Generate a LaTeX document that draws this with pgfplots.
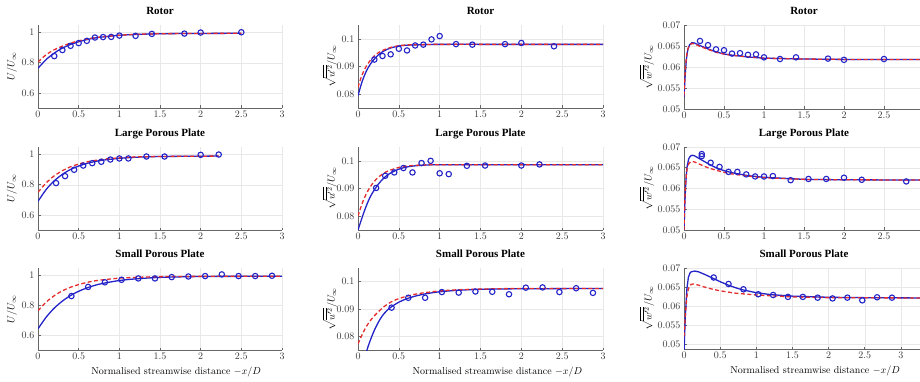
\documentclass[border=0pt]{standalone}
\usepackage{fontspec}
\usepackage{pgfplots}
\pgfplotsset{compat=1.18}
\newfontfamily\titlefont{Liberation Serif}
\definecolor{mblue}{RGB}{35,35,200}
\definecolor{mred}{RGB}{228,45,45}
\pgfplotsset{
  base/.style={
    scale only axis, anchor=north west,
    axis x line=bottom, axis y line=left,
    axis line style={-, draw=black!60, line width=0.6pt},
    grid=major, grid style={black!9, line width=0.4pt},
    tick align=inside, major tick length=2.5pt, tick style={black!60, line width=0.5pt},
    xmin=0, xmax=3, xtick={0,0.5,1,1.5,2,2.5,3},
    scaled ticks=false,
    ticklabel style={font=\fontsize{10.3}{12}\selectfont, text=black!78},
    yticklabel style={/pgf/number format/fixed, /pgf/number format/precision=3},
    xticklabel style={/pgf/number format/fixed},
    title style={at={(axis description cs:0.5,1)}, anchor=base, yshift=4.4pt, font=\titlefont\bfseries\fontsize{11}{13}\selectfont},
    ylabel style={font=\fontsize{12}{14}\selectfont, text=black!78},
    xlabel style={font=\fontsize{12}{14}\selectfont, text=black!78},
  },
  blueline/.style={mblue, line width=1.3pt, no marks},
  redline/.style={mred, dash pattern=on 4pt off 2.5pt, line width=1.3pt, no marks},
  pts/.style={mblue, only marks, mark=o, mark size=2.7pt, mark options={line width=1.1pt, solid}},
  c1/.style={base, width=244pt, ymin=0.5, ymax=1.05, ytick={0.6,0.8,1}, ylabel={$U/U_\infty$},
    every axis y label/.style={at={(axis description cs:-0.107,0.5)}, rotate=90, anchor=center},
    every axis x label/.style={at={(axis description cs:0.566,-0.268)}, anchor=center}},
  c2/.style={base, width=245pt, ymin=0.075, ymax=0.105, ytick={0.08,0.09,0.1}, ylabel={$\sqrt{\overline{u'^2}}/U_\infty$},
    every axis y label/.style={at={(axis description cs:-0.114,0.5)}, rotate=90, anchor=center},
    every axis x label/.style={at={(axis description cs:0.569,-0.268)}, anchor=center}},
  c3/.style={base, width=240pt, ymin=0.05, ymax=0.07, ytick={0.05,0.055,0.06,0.065,0.07}, ylabel={$\sqrt{\overline{w'^2}}/U_\infty$},
    every axis y label/.style={at={(axis description cs:-0.154,0.5)}, rotate=90, anchor=center},
    every axis x label/.style={at={(axis description cs:0.546,-0.268)}, anchor=center}},
}
\begin{document}
\begin{tikzpicture}[x=1pt,y=1pt]
\useasboundingbox (0,0) rectangle (920,-382);
\clip (0,0) rectangle (920,-382);
% ---------------- Row 1 ----------------
\begin{axis}[c1, at={(38pt,-25pt)}, height=83pt, title={Rotor}]
\addplot[blueline, smooth] coordinates {(0,0.763)(0.1,0.821)(0.2,0.864)(0.3,0.897)(0.4,0.921)(0.5,0.939)(0.6,0.953)(0.7,0.964)(0.8,0.971)(1.0,0.982)(1.2,0.987)(1.5,0.992)(2.0,0.994)(2.5,0.995)};
\addplot[redline, smooth] coordinates {(0,0.805)(0.1,0.853)(0.2,0.886)(0.3,0.910)(0.4,0.930)(0.5,0.945)(0.6,0.957)(0.7,0.966)(0.8,0.972)(1.0,0.982)(1.2,0.988)(1.5,0.992)(2.0,0.994)(2.5,0.995)};
\addplot[pts] coordinates {(0.2,0.844)(0.3,0.884)(0.4,0.912)(0.5,0.930)(0.6,0.945)(0.7,0.967)(0.8,0.970)(0.9,0.971)(1.0,0.980)(1.2,0.978)(1.4,0.991)(1.8,0.993)(2.0,1.0)(2.5,1.002)};
\end{axis}
\begin{axis}[c2, at={(358pt,-25pt)}, height=83pt, title={Rotor}]
\addplot[blueline, smooth] coordinates {(0,0.0795)(0.05,0.0845)(0.1,0.0882)(0.15,0.0908)(0.2,0.0927)(0.25,0.0942)(0.3,0.0953)(0.35,0.0961)(0.4,0.0967)(0.5,0.0974)(0.6,0.0977)(0.8,0.0979)(1.0,0.0980)(2.0,0.0980)(3.0,0.0980)};
\addplot[redline, smooth] coordinates {(0,0.0825)(0.05,0.0870)(0.1,0.0900)(0.15,0.0922)(0.2,0.0938)(0.25,0.0950)(0.3,0.0958)(0.35,0.0964)(0.4,0.0969)(0.5,0.0975)(0.6,0.0978)(0.8,0.0979)(1.0,0.0980)(2.0,0.0980)(3.0,0.0980)};
\addplot[pts] coordinates {(0.2,0.0925)(0.3,0.0938)(0.4,0.0944)(0.5,0.0964)(0.6,0.0958)(0.7,0.0976)(0.8,0.0979)(0.9,0.0998)(1.0,0.1010)(1.2,0.0981)(1.4,0.0979)(1.8,0.0981)(2.0,0.0985)(2.4,0.0973)};
\end{axis}
\begin{axis}[c3, at={(684pt,-25pt)}, height=84pt, xtick={0,0.5,1,1.5,2,2.5}, title={Rotor}]
\addplot[blueline] coordinates {(0,0.0528)(0.01,0.0565)(0.02,0.0595)(0.03,0.0618)(0.04,0.0633)(0.05,0.0643)(0.07,0.0653)(0.1,0.0658)(0.13,0.0657)(0.2,0.0651)(0.3,0.0643)(0.4,0.0636)(0.5,0.0631)(0.6,0.0628)(0.8,0.0624)(1.0,0.0621)(1.5,0.0619)(2.0,0.0618)(3.5,0.0618)};
\addplot[redline] coordinates {(0,0.0532)(0.01,0.0572)(0.02,0.0603)(0.03,0.0623)(0.04,0.0636)(0.05,0.0644)(0.07,0.0652)(0.1,0.0656)(0.13,0.0655)(0.2,0.0649)(0.3,0.0642)(0.4,0.0635)(0.5,0.0631)(0.6,0.0628)(0.8,0.0624)(1.0,0.0621)(1.5,0.0619)(2.0,0.0618)(3.5,0.0618)};
\addplot[pts] coordinates {(0.2,0.0662)(0.3,0.0652)(0.4,0.0642)(0.5,0.0640)(0.6,0.0632)(0.7,0.0633)(0.8,0.0629)(0.9,0.0630)(1.0,0.0623)(1.2,0.0619)(1.4,0.0623)(1.8,0.0620)(2.0,0.0617)(2.5,0.0619)};
\end{axis}
% ---------------- Row 2 ----------------
\begin{axis}[c1, at={(38pt,-147pt)}, height=83pt, title={Large Porous Plate}]
\addplot[blueline, smooth] coordinates {(0,0.690)(0.1,0.768)(0.2,0.826)(0.3,0.869)(0.4,0.901)(0.5,0.924)(0.6,0.941)(0.7,0.954)(0.8,0.963)(1.0,0.975)(1.2,0.982)(1.5,0.987)(2.0,0.989)(2.22,0.990)};
\addplot[redline, smooth] coordinates {(0,0.750)(0.1,0.812)(0.2,0.859)(0.3,0.893)(0.4,0.919)(0.5,0.937)(0.6,0.951)(0.7,0.961)(0.8,0.969)(1.0,0.978)(1.2,0.984)(1.5,0.987)(2.0,0.989)(2.22,0.990)};
\addplot[pts] coordinates {(0.222,0.811)(0.333,0.857)(0.444,0.899)(0.556,0.927)(0.667,0.943)(0.778,0.952)(0.889,0.967)(1.0,0.974)(1.111,0.974)(1.333,0.987)(1.556,0.987)(2.0,0.998)(2.222,1.0)};
\end{axis}
\begin{axis}[c2, at={(358pt,-147pt)}, height=83pt, title={Large Porous Plate}]
\addplot[blueline, smooth] coordinates {(0,0.0750)(0.05,0.0795)(0.1,0.0836)(0.15,0.0870)(0.2,0.0895)(0.25,0.0916)(0.3,0.0933)(0.35,0.0946)(0.4,0.0956)(0.5,0.0970)(0.6,0.0978)(0.7,0.0982)(0.8,0.0984)(1.0,0.0986)(2.0,0.0986)(3.0,0.0986)};
\addplot[redline, smooth] coordinates {(0,0.0800)(0.05,0.0845)(0.1,0.0880)(0.15,0.0906)(0.2,0.0926)(0.25,0.0941)(0.3,0.0952)(0.35,0.0961)(0.4,0.0967)(0.5,0.0976)(0.6,0.0981)(0.7,0.0984)(0.8,0.0985)(1.0,0.0986)(2.0,0.0986)(3.0,0.0986)};
\addplot[pts] coordinates {(0.222,0.0902)(0.333,0.0946)(0.444,0.0958)(0.556,0.0974)(0.667,0.0958)(0.778,0.0992)(0.889,0.1000)(1.0,0.0955)(1.111,0.0952)(1.333,0.0982)(1.556,0.0983)(2.0,0.0983)(2.222,0.0987)};
\end{axis}
\begin{axis}[c3, at={(684pt,-147pt)}, height=83pt, xtick={0,0.5,1,1.5,2,2.5}, title={Large Porous Plate}]
\addplot[blueline] coordinates {(0,0.0500)(0.01,0.0560)(0.02,0.0605)(0.03,0.0635)(0.04,0.0655)(0.06,0.0672)(0.08,0.0678)(0.1,0.0680)(0.13,0.0679)(0.2,0.0671)(0.3,0.0660)(0.4,0.0650)(0.5,0.0643)(0.6,0.0638)(0.8,0.0631)(1.0,0.0627)(1.5,0.0622)(2.0,0.0621)(3.5,0.0620)};
\addplot[redline] coordinates {(0,0.0500)(0.01,0.0570)(0.02,0.0610)(0.03,0.0635)(0.04,0.0650)(0.06,0.0660)(0.08,0.0664)(0.1,0.0665)(0.13,0.0664)(0.2,0.0658)(0.3,0.0650)(0.4,0.0644)(0.5,0.0639)(0.6,0.0635)(0.8,0.0630)(1.0,0.0626)(1.5,0.0622)(2.0,0.0621)(3.5,0.0620)};
\addplot[pts] coordinates {(0.222,0.0683)(0.222,0.0678)(0.333,0.0662)(0.444,0.0652)(0.556,0.0640)(0.667,0.0640)(0.778,0.0634)(0.889,0.0629)(1.0,0.0629)(1.111,0.0630)(1.333,0.0620)(1.556,0.0623)(1.778,0.0623)(2.0,0.0626)(2.222,0.0621)(2.778,0.0617)};
\end{axis}
% ---------------- Row 3 ----------------
\begin{axis}[c1, at={(38pt,-268pt)}, height=82pt, title={Small Porous Plate}, xlabel={Normalised streamwise distance $-x/D$}]
\addplot[blueline, smooth] coordinates {(0,0.642)(0.1,0.720)(0.2,0.781)(0.3,0.828)(0.4,0.865)(0.5,0.894)(0.6,0.916)(0.7,0.934)(0.8,0.947)(1.0,0.966)(1.2,0.977)(1.5,0.987)(2.0,0.993)(2.5,0.994)(3.0,0.995)};
\addplot[redline, smooth] coordinates {(0,0.763)(0.1,0.821)(0.2,0.864)(0.3,0.897)(0.4,0.921)(0.5,0.939)(0.6,0.953)(0.7,0.964)(0.8,0.971)(1.0,0.982)(1.2,0.987)(1.5,0.992)(2.0,0.994)(3.0,0.995)};
\addplot[pts] coordinates {(0.411,0.862)(0.616,0.923)(0.822,0.954)(1.027,0.971)(1.233,0.980)(1.438,0.980)(1.644,0.989)(1.849,0.993)(2.055,0.996)(2.260,1.007)(2.466,0.996)(2.671,0.996)(2.877,0.998)};
\end{axis}
\begin{axis}[c2, at={(358pt,-268pt)}, height=82pt, title={Small Porous Plate}, xlabel={Normalised streamwise distance $-x/D$}]
\addplot[blueline, smooth] coordinates {(0,0.0620)(0.05,0.0685)(0.11,0.0750)(0.15,0.0785)(0.2,0.0822)(0.25,0.0852)(0.3,0.0876)(0.35,0.0893)(0.4,0.0906)(0.5,0.0925)(0.6,0.0938)(0.7,0.0947)(0.8,0.0954)(0.9,0.0959)(1.0,0.0963)(1.2,0.0968)(1.5,0.0972)(2.0,0.0974)(3.0,0.0975)};
\addplot[redline, smooth] coordinates {(0,0.0772)(0.05,0.0806)(0.1,0.0835)(0.15,0.0857)(0.2,0.0875)(0.3,0.0904)(0.4,0.0925)(0.5,0.0938)(0.6,0.0947)(0.7,0.0954)(0.8,0.0959)(1.0,0.0966)(1.2,0.0970)(1.5,0.0973)(2.0,0.0975)(3.0,0.0975)};
\addplot[pts] coordinates {(0.411,0.0905)(0.616,0.0941)(0.822,0.0941)(1.027,0.0962)(1.233,0.0960)(1.438,0.0964)(1.644,0.0963)(1.849,0.0954)(2.055,0.0978)(2.260,0.0979)(2.466,0.0962)(2.671,0.0976)(2.877,0.0959)};
\end{axis}
\begin{axis}[c3, at={(684pt,-268pt)}, height=81pt, xmax=3.32, ymin=0.0487, title={Small Porous Plate}, xlabel={Normalised streamwise distance $-x/D$}]
\addplot[blueline] coordinates {(0,0.0480)(0.02,0.0580)(0.04,0.0645)(0.06,0.0675)(0.08,0.0686)(0.1,0.0690)(0.15,0.0692)(0.2,0.0690)(0.3,0.0682)(0.4,0.0673)(0.5,0.0664)(0.6,0.0656)(0.7,0.0649)(0.8,0.0643)(1.0,0.0635)(1.2,0.0630)(1.5,0.0626)(2.0,0.0623)(2.5,0.0622)(3.5,0.0621)};
\addplot[redline] coordinates {(0,0.0520)(0.02,0.0580)(0.04,0.0625)(0.06,0.0645)(0.08,0.0653)(0.1,0.0657)(0.13,0.0658)(0.2,0.0655)(0.3,0.0649)(0.4,0.0644)(0.5,0.0640)(0.7,0.0634)(1.0,0.0629)(1.5,0.0624)(2.0,0.0622)(3.5,0.0621)};
\addplot[pts] coordinates {(0.411,0.0675)(0.616,0.0658)(0.822,0.0644)(1.027,0.0631)(1.233,0.0629)(1.438,0.0624)(1.644,0.0624)(1.849,0.0622)(2.055,0.0620)(2.260,0.0622)(2.466,0.0615)(2.671,0.0623)(2.877,0.0622)};
\end{axis}
\end{tikzpicture}
\end{document}
